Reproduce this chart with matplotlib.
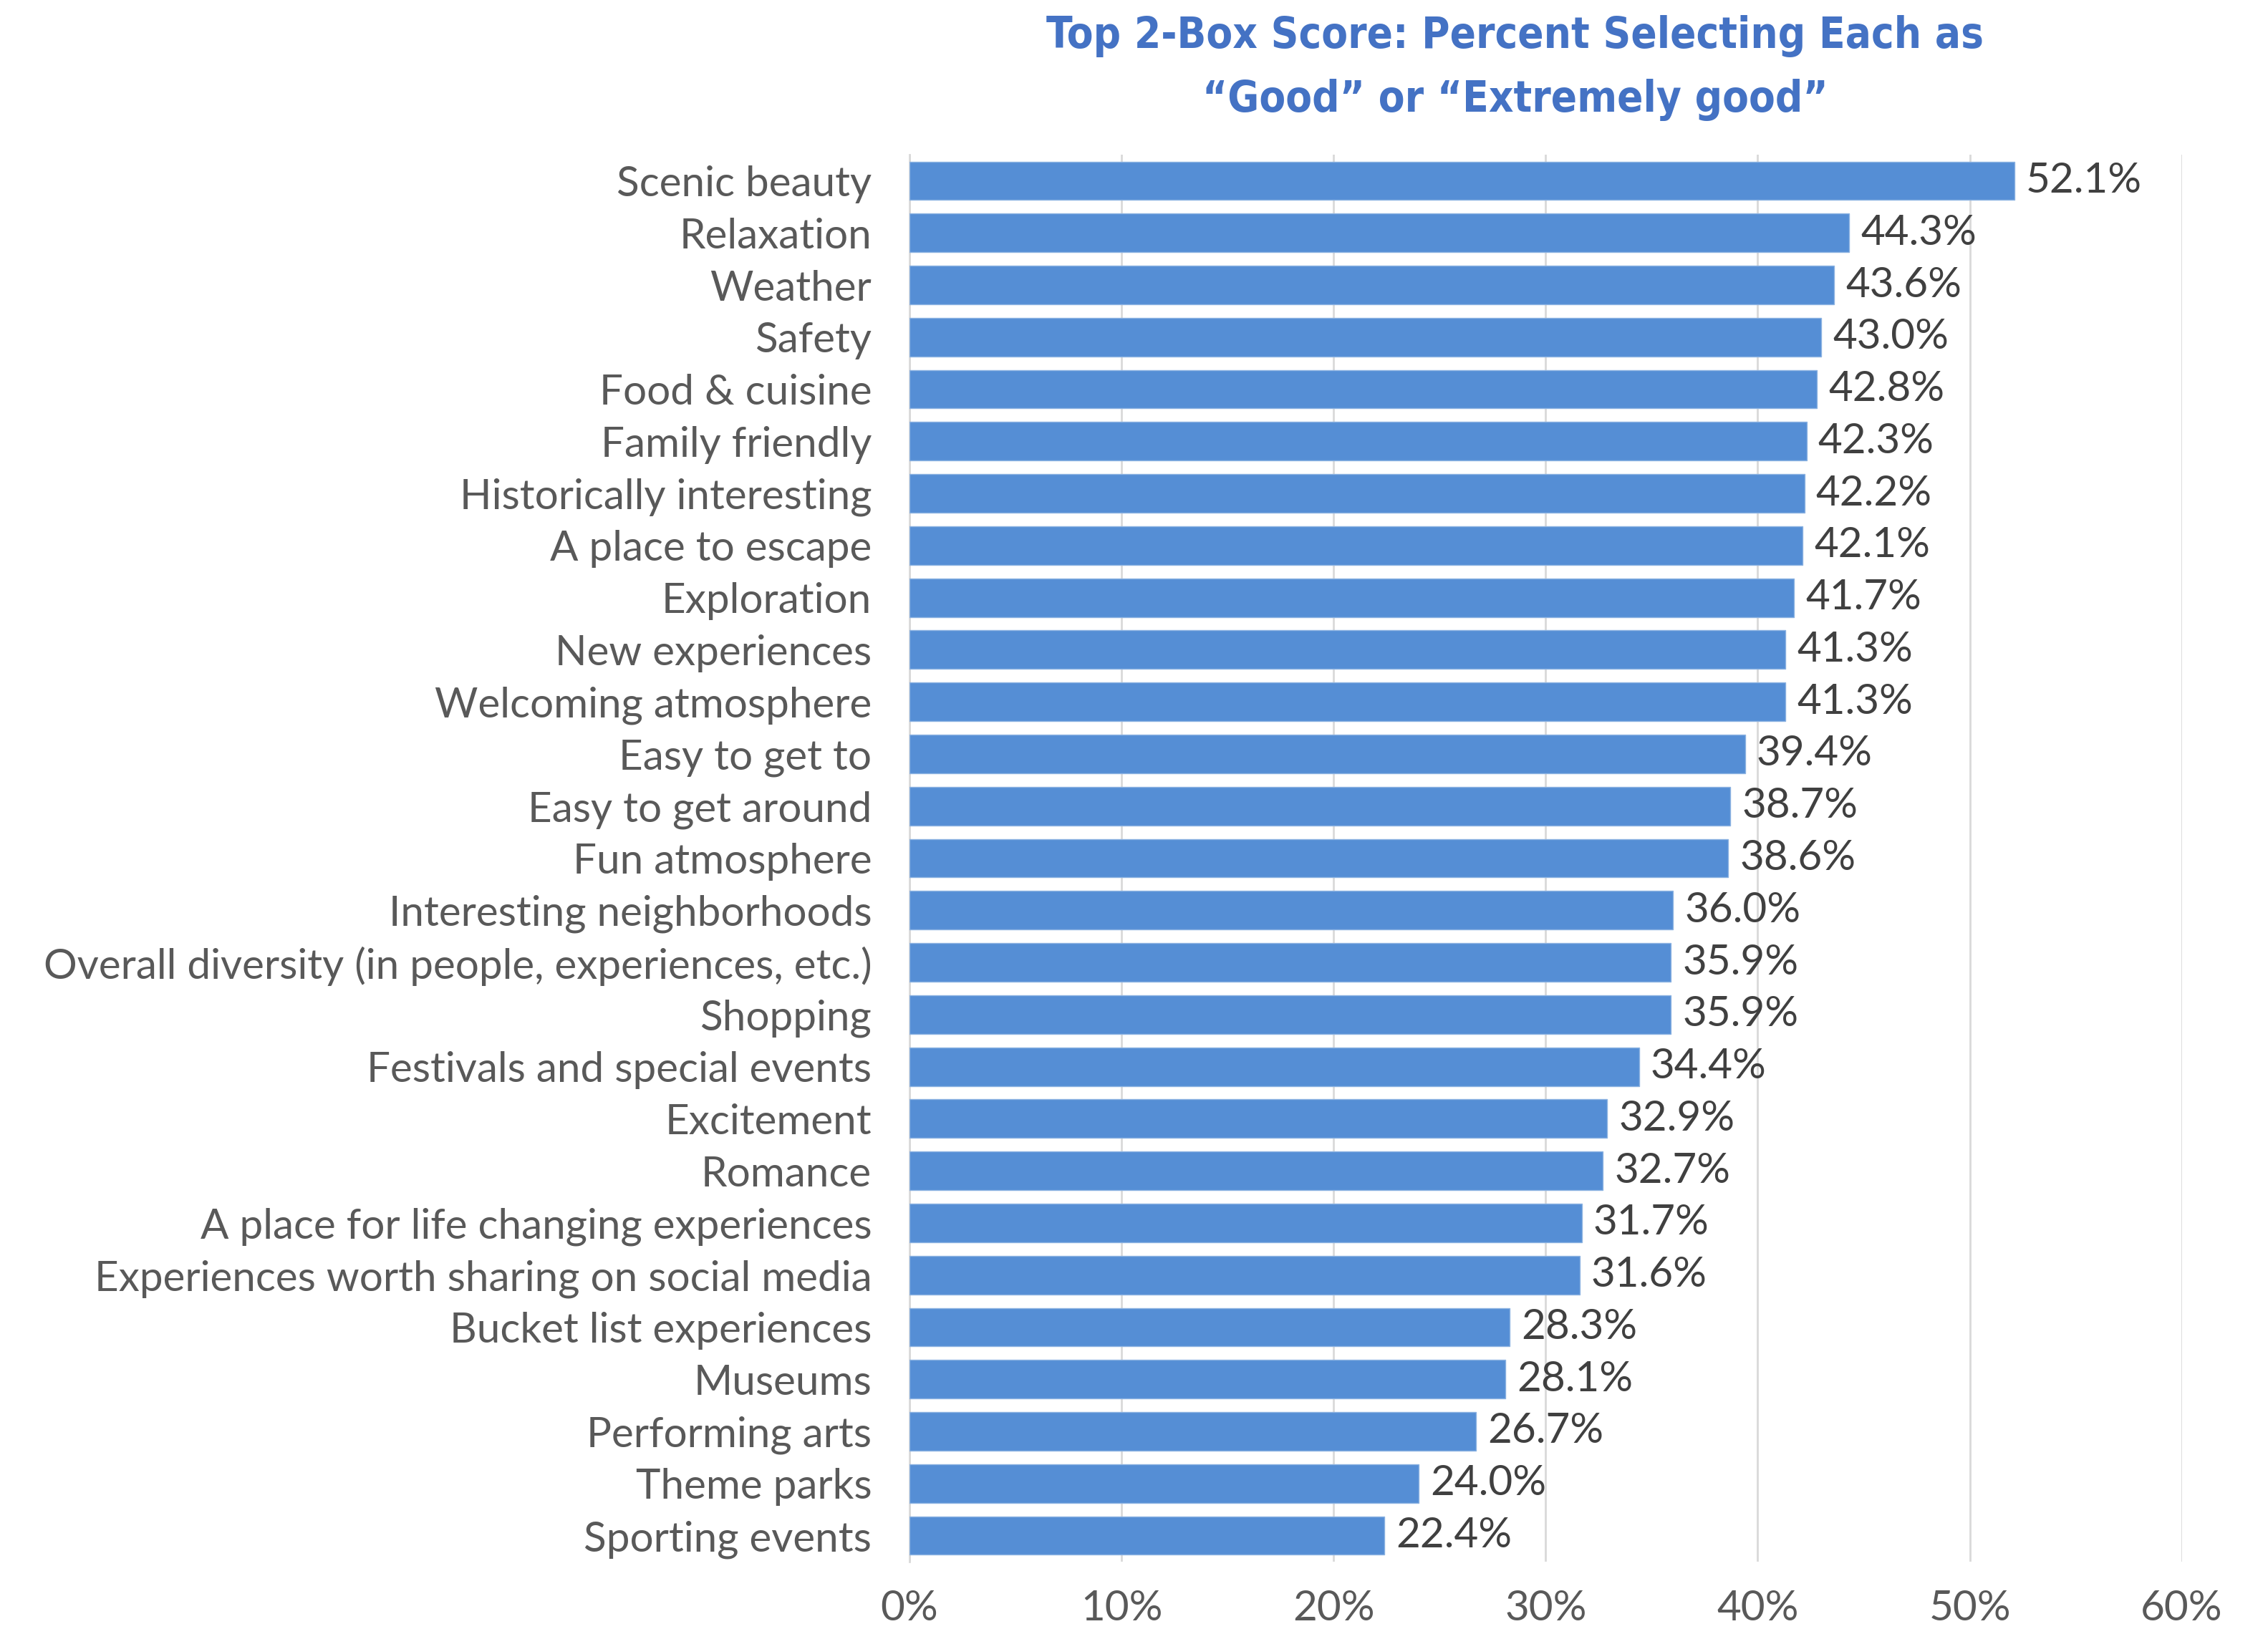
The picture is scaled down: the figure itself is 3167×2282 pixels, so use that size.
import matplotlib
matplotlib.use("Agg")
import matplotlib.pyplot as plt
from matplotlib.ticker import PercentFormatter

# Top 2-box scores, listed top to bottom
attributes = [
    "Scenic beauty", "Relaxation", "Weather", "Safety", "Food & cuisine",
    "Family friendly", "Historically interesting", "A place to escape",
    "Exploration", "New experiences", "Welcoming atmosphere", "Easy to get to",
    "Easy to get around", "Fun atmosphere", "Interesting neighborhoods",
    "Overall diversity (in people, experiences, etc.)", "Shopping",
    "Festivals and special events", "Excitement", "Romance",
    "A place for life changing experiences",
    "Experiences worth sharing on social media", "Bucket list experiences",
    "Museums", "Performing arts", "Theme parks", "Sporting events",
]
scores = [
    52.1, 44.3, 43.6, 43.0, 42.8, 42.3, 42.2, 42.1, 41.7, 41.3, 41.3, 39.4,
    38.7, 38.6, 36.0, 35.9, 35.9, 34.4, 32.9, 32.7, 31.7, 31.6, 28.3, 28.1,
    26.7, 24.0, 22.4,
]
x_ticks = [0, 10, 20, 30, 40, 50, 60]

plt.rcParams['font.family'] = ['Lato', 'DejaVu Sans']
text_grey = '#595959'
bar_blue = '#558ED5'
title_blue = '#4472C4'

fig = plt.figure(figsize=(31.67, 22.82), dpi=100)
ax = fig.add_axes([0.401, 0.0443, 0.561, 0.861])

pos = list(range(len(attributes)))
ax.barh(pos, scores, height=0.74, color=bar_blue, edgecolor='#8DB3E2',
        linewidth=1.0, zorder=3)

for p, v in zip(pos, scores):
    ax.text(v + 0.55, p, f"{v:.1f}%", va='center', ha='left',
            fontsize=42, color='#404040')

ax.set_ylim(len(attributes) - 0.5, -0.5)
ax.set_xlim(0, 60)
ax.set_yticks(pos)
ax.set_yticklabels(attributes, fontsize=42, color=text_grey)
ax.set_xticks(x_ticks)
ax.xaxis.set_major_formatter(PercentFormatter(decimals=0))
ax.tick_params(axis='x', labelsize=42, labelcolor=text_grey, length=0, pad=28)
ax.tick_params(axis='y', length=0, pad=38)

ax.grid(axis='x', color='#D9D9D9', linewidth=2, zorder=0)
for side in ['top', 'right', 'bottom']:
    ax.spines[side].set_visible(False)
ax.spines['left'].set_color('#D9D9D9')
ax.spines['left'].set_linewidth(2)

# title in a condensed bold face
title_font = dict(ha='center', va='center', fontsize=43, fontweight='bold',
                  color=title_blue, family='DejaVu Sans',
                  fontstretch='condensed')
fig.text(0.668, 0.978, "Top 2-Box Score: Percent Selecting Each as",
         **title_font)
fig.text(0.668, 0.939, "\u201cGood\u201d or \u201cExtremely good\u201d",
         **title_font)

fig.savefig('out.png', dpi=100)
